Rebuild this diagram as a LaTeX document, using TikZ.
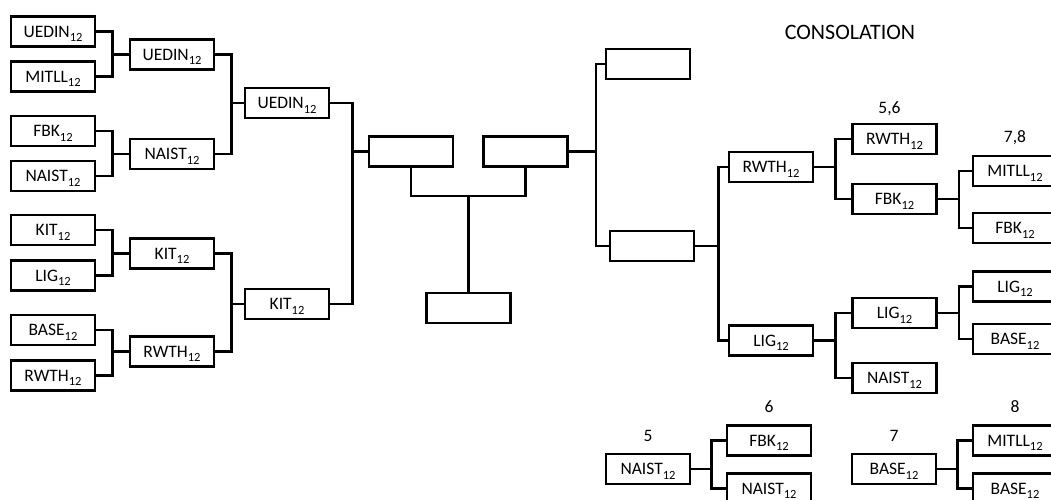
\documentclass[tikz,border=0pt]{standalone}
\usepackage{fontspec}
\setmainfont{Carlito}
\usetikzlibrary{positioning}
\newcommand{\yr}{\raisebox{-4.5pt}{\fontsize{12.5}{12.5}\selectfont 12}}

\begin{document}
\begin{tikzpicture}[x=1pt, y=-1pt, line width=2.8pt,
    font=\fontsize{17.5}{21}\selectfont,
    team/.style={draw, minimum width=84pt, minimum height=30pt, inner sep=0pt, text depth=0pt},
    num/.style={inner sep=0pt, text depth=0pt},
    ]
    \useasboundingbox (0,0) rectangle (1051,499);
    \clip (0,0) rectangle (1051,499);

    % First round
    \node[team] (r1a) at (53,31.7) {UEDIN\yr};
    \node[team] (r1b) at (53,76.5) {MITLL\yr};
    \node[team] (r1c) at (53,131) {FBK\yr};
    \node[team] (r1d) at (53,176) {NAIST\yr};
    \node[team] (r1e) at (53,230) {KIT\yr};
    \node[team] (r1f) at (53,275.5) {LIG\yr};
    \node[team] (r1g) at (53,330) {BASE\yr};
    \node[team] (r1h) at (53,375.5) {RWTH\yr};

    % Second round
    \node[team] (r2a) at (172,54.5) {UEDIN\yr};
    \node[team] (r2b) at (172,154) {NAIST\yr};
    \node[team] (r2c) at (172,253.5) {KIT\yr};
    \node[team] (r2d) at (172,351.7) {RWTH\yr};

    % Third round
    \node[team] (r3a) at (287,103) {UEDIN\yr};
    \node[team] (r3b) at (287,304) {KIT\yr};

    % Semifinals and final
    \node[team] (semiL) at (411,151.5) {};
    \node[team] (semiR) at (525.5,151.5) {};
    \node[team] (final) at (468.5,308) {};

    % Consolation
    \node[font=\fontsize{22}{26}\selectfont] (cons) at (850,32) {CONSOLATION};
    \node[team] (thrd) at (648,64) {};
    \node[team] (c1) at (652,246) {};
    \node[team] (c2a) at (771,167) {RWTH\yr};
    \node[team] (c2b) at (771,340.5) {LIG\yr};
    \node[team] (c3a) at (894.5,139) {RWTH\yr};
    \node[team] (c3b) at (894.5,199) {FBK\yr};
    \node[team] (c3c) at (894.5,313) {LIG\yr};
    \node[team] (c3d) at (894.5,378) {NAIST\yr};
    \node[team] (c4a) at (1015,171) {MITLL\yr};
    \node[team] (c4b) at (1015,228) {FBK\yr};
    \node[team] (c4c) at (1015,286.5) {LIG\yr};
    \node[team] (c4d) at (1015,339) {BASE\yr};
    \node[num, above=8pt, xshift=-5pt] at (c3a.north) {5,6};
    \node[num, above=11pt] at (c4a.north) {7,8};

    % Places 5 to 8
    \node[team] (p5) at (648,469) {NAIST\yr};
    \node[team] (p6a) at (769,440.5) {FBK\yr};
    \node[team] (p6b) at (769,488.5) {NAIST\yr};
    \node[team] (p7) at (894,469) {BASE\yr};
    \node[team] (p8a) at (1015,440.5) {MITLL\yr};
    \node[team] (p8b) at (1015,488.5) {BASE\yr};
    \node[num, above=10pt] at (p5.north) {5};
    \node[num, above=10pt] at (p6a.north) {6};
    \node[num, above=10pt] at (p7.north) {7};
    \node[num, above=10pt] at (p8a.north) {8};

    % Brackets of the main draw
    \foreach \a/\b in {r1a/r2a, r1b/r2a, r1c/r2b, r1d/r2b, r1e/r2c, r1f/r2c, r1g/r2d, r1h/r2d}
      \draw (\a.east) -- ++(16,0) |- (\b.west);
    \foreach \a/\b in {r2a/r3a, r2b/r3a, r2c/r3b, r2d/r3b}
      \draw (\a.east) -- ++(16,0) |- (\b.west);
    \foreach \a in {r3a, r3b}
      \draw (\a.east) -- ++(22,0) |- (semiL.west);

    % Final
    \draw (semiL.south) -- ++(0,28) coordinate (fj) -| (semiR.south);
    \draw (final.north) -- (final.north |- fj);

    % Consolation brackets
    \foreach \b in {thrd, c1}
      \draw (semiR.east) -- ++(27,0) |- (\b.west);
    \foreach \b in {c2a, c2b}
      \draw (c1.east) -- ++(23,0) |- (\b.west);
    \foreach \a/\b in {c2a/c3a, c2a/c3b, c2b/c3c, c2b/c3d}
      \draw (\a.east) -- ++(21,0) |- (\b.west);
    \foreach \a/\b in {c3b/c4a, c3b/c4b, c3c/c4c, c3c/c4d}
      \draw (\a.east) -- ++(21,0) |- (\b.west);
    \foreach \a/\b in {p5/p6a, p5/p6b, p7/p8a, p7/p8b}
      \draw (\a.east) -- ++(20,0) |- (\b.west);
\end{tikzpicture}
\end{document}
